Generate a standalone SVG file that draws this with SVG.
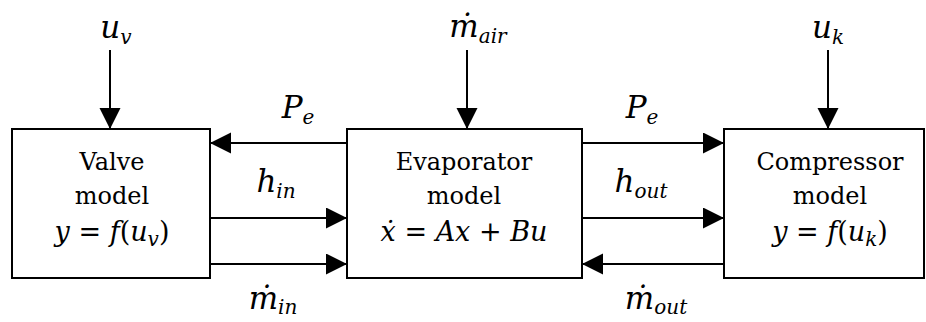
<svg xmlns="http://www.w3.org/2000/svg" width="926" height="322" viewBox="0 0 926 322">
<defs>
<marker id="ah" markerUnits="userSpaceOnUse" markerWidth="22" markerHeight="22" refX="21" refY="10.5" orient="auto">
<path d="M0,0 L21,10.5 L0,21 Z" fill="#000"/>
</marker>
<style>
.box{fill:#fff;stroke:#000;stroke-width:2}
.arr{stroke:#000;stroke-width:2;fill:none;marker-end:url(#ah)}
.t{font-family:"DejaVu Serif","Liberation Serif",serif;font-size:24px;fill:#000;text-anchor:middle}
.eq{font-size:27px}
.m{font-family:"DejaVu Serif","Liberation Serif",serif;font-size:31px;font-style:italic;fill:#000;text-anchor:middle}
.s{font-size:20px}
.i{font-style:italic}
</style>
</defs>
<rect width="926" height="322" fill="#fff"/>
<g id="valve">
<rect class="box" x="12" y="129" width="198" height="149"/>
<text class="t" x="112" y="170">Valve</text>
<text class="t" x="112" y="204">model</text>
<text class="t eq" x="112" y="241"><tspan class="i">y</tspan> = <tspan class="i">f</tspan>(<tspan class="i">u</tspan><tspan class="s i" dy="5">v</tspan><tspan dy="-5">)</tspan></text>
</g>
<g id="evaporator">
<rect class="box" x="347" y="129" width="235" height="149"/>
<text class="t" x="464" y="170">Evaporator</text>
<text class="t" x="464" y="204">model</text>
<text class="t eq" x="464" y="241"><tspan class="i">ẋ</tspan> = <tspan class="i">Ax</tspan> + <tspan class="i">Bu</tspan></text>
</g>
<g id="compressor">
<rect class="box" x="724" y="129" width="200" height="149"/>
<text class="t" x="830" y="170">Compressor</text>
<text class="t" x="830" y="204">model</text>
<text class="t eq" x="830" y="241"><tspan class="i">y</tspan> = <tspan class="i">f</tspan>(<tspan class="i">u</tspan><tspan class="s i" dy="5">k</tspan><tspan dy="-5">)</tspan></text>
</g>
<g id="connectors">
<line class="arr" x1="110" y1="50" x2="110" y2="129"/>
<line class="arr" x1="467" y1="50" x2="467" y2="129"/>
<line class="arr" x1="828" y1="50" x2="828" y2="129"/>
<line class="arr" x1="347" y1="143" x2="210" y2="143"/>
<line class="arr" x1="210" y1="218" x2="347" y2="218"/>
<line class="arr" x1="210" y1="264" x2="347" y2="264"/>
<line class="arr" x1="582" y1="143" x2="724" y2="143"/>
<line class="arr" x1="582" y1="218" x2="724" y2="218"/>
<line class="arr" x1="724" y1="264" x2="582" y2="264"/>
</g>
<g id="labels">
<text class="m" x="116" y="38">u<tspan class="s" dy="6">v</tspan></text>
<text class="m" x="478" y="37">ṁ<tspan class="s" dy="6">air</tspan></text>
<text class="m" x="828" y="38">u<tspan class="s" dy="6">k</tspan></text>
<text class="m" x="298" y="118">P<tspan class="s" dy="6">e</tspan></text>
<text class="m" x="642" y="118">P<tspan class="s" dy="6">e</tspan></text>
<text class="m" x="276" y="192">h<tspan class="s" dy="6">in</tspan></text>
<text class="m" x="641" y="192">h<tspan class="s" dy="6">out</tspan></text>
<text class="m" x="273" y="309">ṁ<tspan class="s" dy="5">in</tspan></text>
<text class="m" x="656" y="309">ṁ<tspan class="s" dy="5">out</tspan></text>
</g>
</svg>
